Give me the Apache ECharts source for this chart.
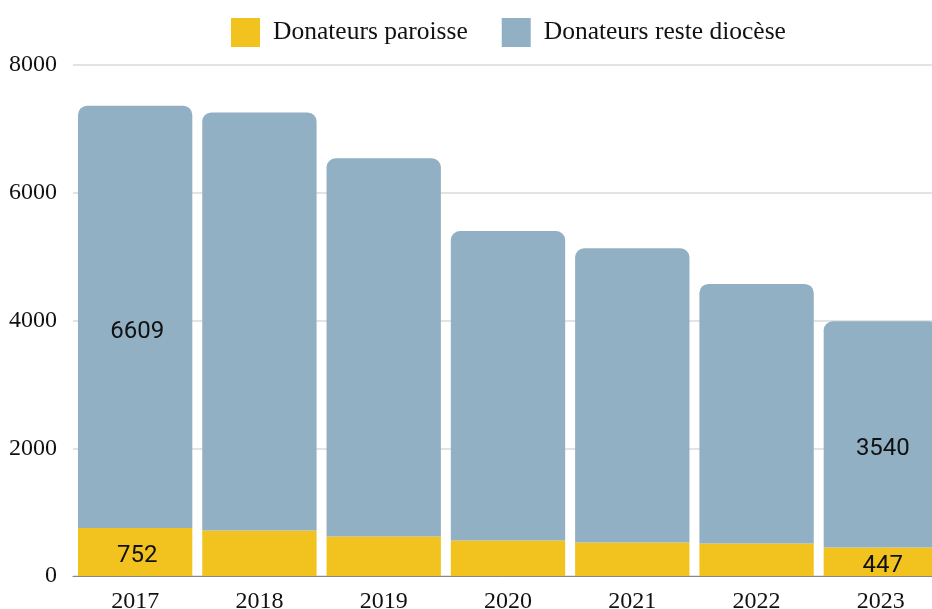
<!DOCTYPE html>
<html>
<head>
<meta charset="utf-8">
<script src="https://cdn.jsdelivr.net/npm/echarts@6/dist/echarts.min.js"></script>
<style>
  html, body { margin: 0; padding: 0; background: #fff; }
  #chart { width: 932px; height: 609px; }
</style>
</head>
<body>
<div id="chart"></div>
<script>
// données
const years = ["2017", "2018", "2019", "2020", "2021", "2022", "2023"];
const paroisse = [752, 712, 618, 555, 524, 508, 447];
const resteDiocese = [6609, 6546, 5922, 4845, 4606, 4064, 3540];
const yTicks = [0, 2000, 4000, 6000, 8000];

const serif = "Liberation Serif";
const labelFont = "Roboto";

// n'afficher l'étiquette que pour la première et la dernière année
function withEndLabels(values) {
  return values.map((v, i) => ({
    value: v,
    label: { show: i === 0 || i === values.length - 1 }
  }));
}

const chart = echarts.init(document.getElementById("chart"));
chart.setOption({
  animation: false,
  legend: {
    top: 13,
    left: 226,
    itemWidth: 29,
    itemHeight: 29,
    itemGap: 34,
    icon: "rect",
    textStyle: { fontFamily: serif, fontSize: 25.5, color: "#111", padding: [0, 0, 0, 8] },
    data: ["Donateurs paroisse", "Donateurs reste diocèse"]
  },
  grid: {
    left: 73,
    width: 870,
    top: 65,
    height: 511,
    outerBoundsMode: "none",
    containLabel: false
  },
  xAxis: {
    type: "category",
    data: years,
    axisTick: { show: false },
    axisLine: { show: true, lineStyle: { color: "#888", width: 1 } },
    axisLabel: { fontFamily: serif, fontSize: 24, color: "#111", margin: 14 }
  },
  yAxis: {
    type: "value",
    min: yTicks[0],
    max: yTicks[yTicks.length - 1],
    interval: 2000,
    axisLine: { show: false },
    axisTick: { show: false },
    axisLabel: { fontFamily: serif, fontSize: 24, color: "#111", margin: 16, formatter: v => String(v) },
    splitLine: { lineStyle: { color: "#dadada", width: 1.5 } }
  },
  series: [
    {
      name: "Donateurs paroisse",
      type: "bar",
      stack: "total",
      barCategoryGap: "8%",
      itemStyle: { color: "#F2C31E" },
      label: {
        position: "inside",
        offset: [2, 4],
        fontFamily: labelFont,
        fontSize: 24,
        color: "#111"
      },
      data: withEndLabels(paroisse)
    },
    {
      name: "Donateurs reste diocèse",
      type: "bar",
      stack: "total",
      barCategoryGap: "8%",
      itemStyle: { color: "#91B0C3", borderRadius: [9, 9, 0, 0] },
      label: {
        position: "inside",
        offset: [2, 15],
        fontFamily: labelFont,
        fontSize: 24,
        color: "#111"
      },
      data: withEndLabels(resteDiocese)
    }
  ]
});
</script>
</body>
</html>
